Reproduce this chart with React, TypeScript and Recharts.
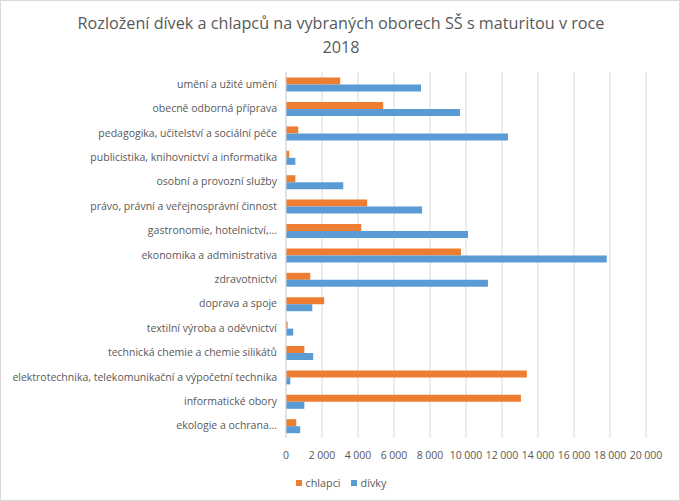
import React from "react";
import { BarChart, Bar, XAxis, YAxis, CartesianGrid } from "recharts";

const categories = [
  "umění a užité umění",
  "obecně odborná příprava",
  "pedagogika, učitelství a sociální péče",
  "publicistika, knihovnictví a informatika",
  "osobní a provozní služby",
  "právo, právní a veřejnosprávní činnost",
  "gastronomie, hotelnictví,...",
  "ekonomika a administrativa",
  "zdravotnictví",
  "doprava a spoje",
  "textilní výroba a oděvnictví",
  "technická chemie a chemie silikátů",
  "elektrotechnika, telekomunikační a výpočetní technika",
  "informatické obory",
  "ekologie a ochrana...",
];

const chlapci = [3010, 5400, 680, 180, 520, 4510, 4180, 9720, 1350, 2120, 90, 1020, 13380, 13050, 570];
const divky = [7500, 9670, 12330, 520, 3180, 7560, 10110, 17820, 11220, 1460, 400, 1510, 240, 1020, 790];

const xTicks = [0, 2000, 4000, 6000, 8000, 10000, 12000, 14000, 16000, 18000, 20000];

const data = categories.map((name, i) => ({ name, chlapci: chlapci[i], divky: divky[i] }));

const FONT = "'Open Sans', sans-serif";
const TEXT = "#595959";
const ORANGE = "#ED7D31";
const BLUE = "#5B9BD5";

const fmt = (v: number) => String(v).replace(/\B(?=(\d{3})+(?!\d))/g, " ");

const CategoryTick = ({ y, payload }: any) => (
  <text x={277} y={y} dy={3.5} textAnchor="end" fontSize={10.5} fill={TEXT} fontFamily={FONT}>
    {payload.value}
  </text>
);

export default function App() {
  return (
    <div
      style={{
        position: "absolute",
        left: 0,
        top: 0,
        width: 680,
        height: 501,
        border: "1px solid #D9D9D9",
        boxSizing: "border-box",
        background: "#fff",
        fontFamily: FONT,
      }}
    >
      <div
        style={{
          position: "absolute",
          top: 10,
          left: 0,
          width: 680,
          textAlign: "center",
          fontSize: 16.2,
          lineHeight: "24px",
          color: TEXT,
        }}
      >
        Rozložení dívek a chlapců na vybraných oborech SŠ s maturitou v roce
        <br />
        2018
      </div>

      <div style={{ position: "absolute", left: -1, top: -1 }}>
        <BarChart
          width={680}
          height={501}
          data={data}
          layout="vertical"
          margin={{ top: 72, right: 34, bottom: 43, left: 0 }}
          barCategoryGap="23%"
          barGap={0}
        >
          <CartesianGrid horizontal={false} stroke="#D9D9D9" />
          <XAxis
            type="number"
            domain={[0, 20000]}
            ticks={xTicks}
            tickFormatter={fmt}
            axisLine={false}
            tickLine={false}
            tickMargin={8}
            height={20}
            tick={{ fontSize: 10.5, fill: TEXT, fontFamily: FONT }}
            interval={0}
          />
          <YAxis
            type="category"
            dataKey="name"
            width={286}
            axisLine={{ stroke: "#D9D9D9" }}
            tickLine={false}
            tick={<CategoryTick />}
            interval={0}
          />
          <Bar dataKey="chlapci" fill={ORANGE} isAnimationActive={false} />
          <Bar dataKey="divky" fill={BLUE} isAnimationActive={false} />
        </BarChart>
      </div>

      <div
        style={{
          position: "absolute",
          top: 474,
          left: 0,
          width: 680,
          display: "flex",
          justifyContent: "center",
          gap: 10,
          fontSize: 10.8,
          color: TEXT,
          lineHeight: "16px",
        }}
      >
        <span style={{ display: "flex", alignItems: "center" }}>
          <span style={{ width: 6, height: 6, background: ORANGE, marginRight: 4 }} />
          chlapci
        </span>
        <span style={{ display: "flex", alignItems: "center" }}>
          <span style={{ width: 6, height: 6, background: BLUE, marginRight: 4 }} />
          dívky
        </span>
      </div>
    </div>
  );
}
